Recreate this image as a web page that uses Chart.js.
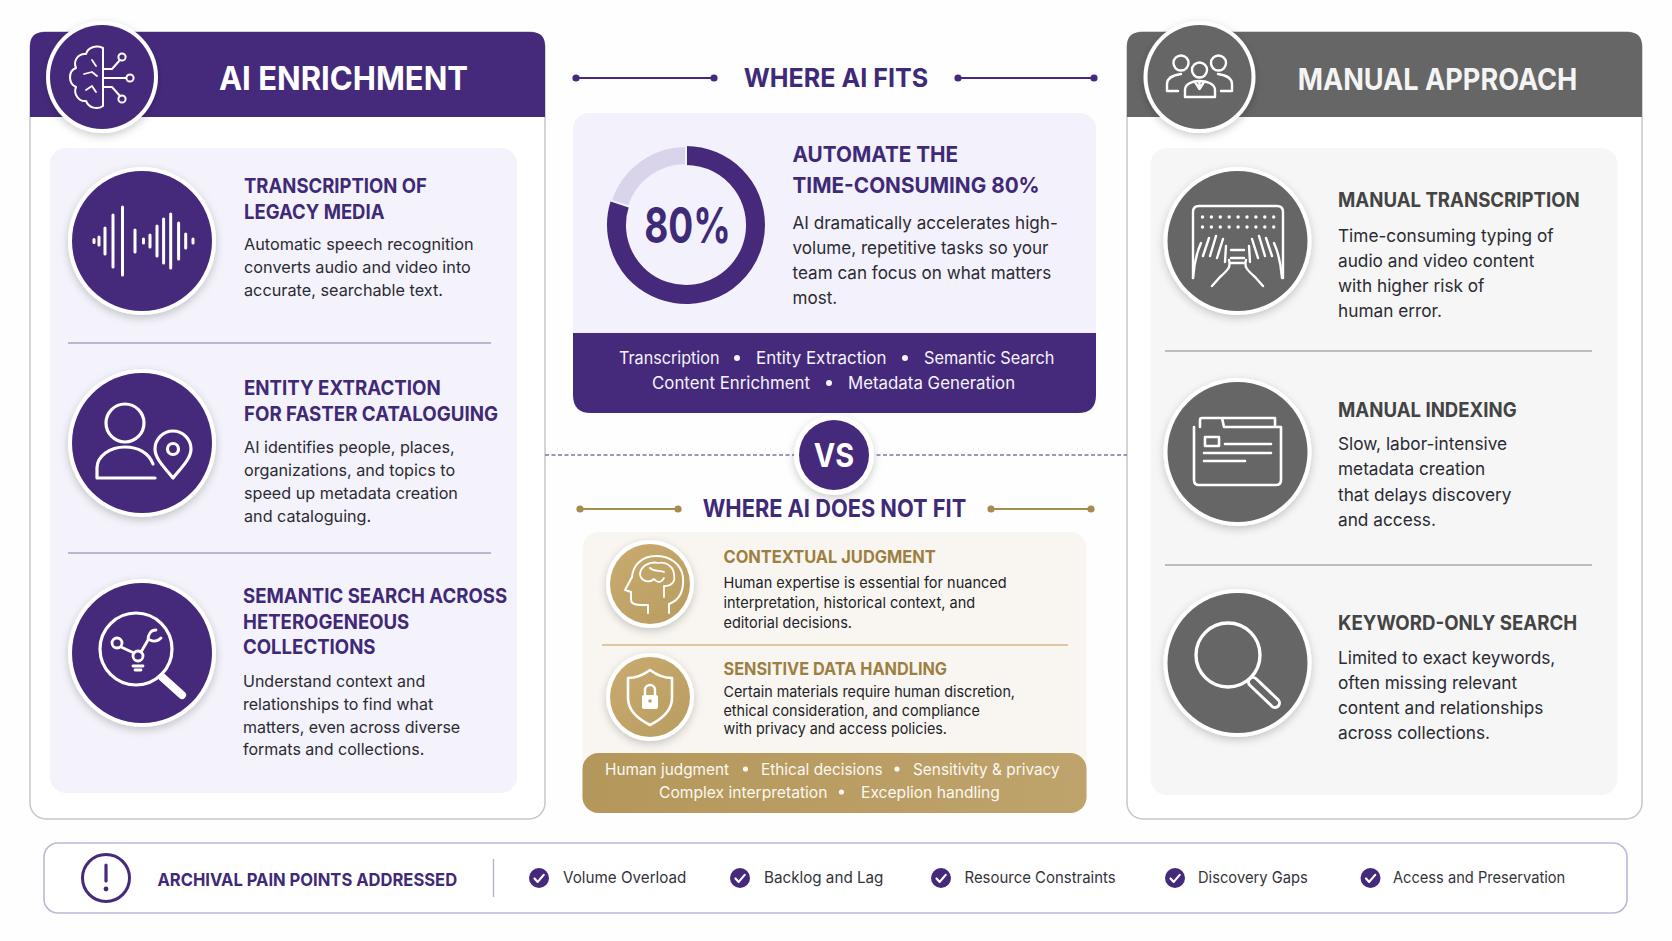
<!DOCTYPE html>
<html lang="en">
<head>
<meta charset="UTF-8">
<title>AI Enrichment vs Manual Approach</title>
<script src="https://cdn.jsdelivr.net/npm/chart.js"></script>
<style>
    html, body { margin: 0; padding: 0; background: #fefefe; overflow: hidden; }
    #board { position: absolute; left: 0; top: 0; width: 1672px; height: 941px; }
    #donutWrap { position: absolute; left: 605.5px; top: 144.5px; width: 160px; height: 160px; }
    text { font-family: Inter, "Noto Sans", sans-serif; }
    .ln { fill: none; stroke: #fff; stroke-width: 2.4; stroke-linecap: round; stroke-linejoin: round; }
</style>
</head>
<body>
<svg id="board" xmlns="http://www.w3.org/2000/svg" width="1672" height="941" viewBox="0 0 1672 941">
    <defs>
        <filter id="soft" x="-30%" y="-30%" width="160%" height="160%">
            <feDropShadow dx="0" dy="3" stdDeviation="4" flood-color="#000" flood-opacity="0.2"/>
        </filter>
        <linearGradient id="goldBand" x1="0" x2="1" y1="0" y2="0">
            <stop offset="0" stop-color="#b4975a"/><stop offset="1" stop-color="#bea36c"/>
        </linearGradient>
        <linearGradient id="goldDisc" x1="0" x2="1" y1="0" y2="1">
            <stop offset="0" stop-color="#c9ab70"/><stop offset="1" stop-color="#b99c60"/>
        </linearGradient>
    </defs>
    <g id="shapes"></g>
    <g id="icons"></g>
    <g id="labels"></g>
</svg>
<div id="donutWrap"><canvas id="donut" width="160" height="160"></canvas></div>

<script>
// share of the work shown in the ring
const fitLabels = ['Automated', 'Remaining'];
const fitValues = [80, 20];

const aiHeads = [
    ['TRANSCRIPTION OF', 'LEGACY MEDIA'],
    ['ENTITY EXTRACTION', 'FOR FASTER CATALOGUING'],
    ['SEMANTIC SEARCH ACROSS', 'HETEROGENEOUS', 'COLLECTIONS']
];
const aiBodies = [
    ['Automatic speech recognition', 'converts audio and video into', 'accurate, searchable text.'],
    ['AI identifies people, places,', 'organizations, and topics to', 'speed up metadata creation', 'and cataloguing.'],
    ['Understand context and', 'relationships to find what', 'matters, even across diverse', 'formats and collections.']
];
const manualHeads = ['MANUAL TRANSCRIPTION', 'MANUAL INDEXING', 'KEYWORD-ONLY SEARCH'];
const manualBodies = [
    ['Time-consuming typing of', 'audio and video content', 'with higher risk of', 'human error.'],
    ['Slow, labor-intensive', 'metadata creation', 'that delays discovery', 'and access.'],
    ['Limited to exact keywords,', 'often missing relevant', 'content and relationships', 'across collections.']
];
const fitHead = ['AUTOMATE THE', 'TIME-CONSUMING 80%'];
const fitBody = ['AI dramatically accelerates high-', 'volume, repetitive tasks so your', 'team can focus on what matters', 'most.'];
const fitTags = [['Transcription', 'Entity Extraction', 'Semantic Search'], ['Content Enrichment', 'Metadata Generation']];
const noFitHeads = ['CONTEXTUAL JUDGMENT', 'SENSITIVE DATA HANDLING'];
const noFitBodies = [
    ['Human expertise is essential for nuanced', 'interpretation, historical context, and', 'editorial decisions.'],
    ['Certain materials require human discretion,', 'ethical consideration, and compliance', 'with privacy and access policies.']
];
const noFitTags = [['Human judgment', 'Ethical decisions', 'Sensitivity & privacy'], ['Complex interpretation', 'Exceplion handling']];
const painTitle = 'ARCHIVAL PAIN POINTS ADDRESSED';
const painPoints = ['Volume Overload', 'Backlog and Lag', 'Resource Constraints', 'Discovery Gaps', 'Access and Preservation'];

const PURPLE = '#452a7c', INK_PURPLE = '#3f2a78', GREY = '#666666', GOLD = '#9c7f42', BODY = '#2b2b33';
const NS = 'http://www.w3.org/2000/svg';
const shapes = document.getElementById('shapes');
const icons = document.getElementById('icons');
const labels = document.getElementById('labels');

function el(parent, tag, attrs) {
    const node = document.createElementNS(NS, tag);
    for (const k in attrs) node.setAttribute(k, attrs[k]);
    parent.appendChild(node);
    return node;
}
function rect(x, y, w, h, r, fill, extra) {
    return el(shapes, 'rect', Object.assign({ x: x, y: y, width: w, height: h, rx: r, fill: fill }, extra || {}));
}
function hline(x1, x2, y, color, width, extra) {
    return el(shapes, 'line', Object.assign({ x1: x1, x2: x2, y1: y, y2: y, stroke: color, 'stroke-width': width }, extra || {}));
}
function dot(parent, x, y, r, fill) {
    return el(parent, 'circle', { cx: x, cy: y, r: r, fill: fill });
}
// fit narrows the glyphs a little, the reference face is tighter than Inter
function label(x, y, str, size, weight, fill, anchor, fit) {
    const t = el(labels, 'text', { x: x, y: y, 'font-size': size, 'font-weight': weight, fill: fill, 'text-anchor': anchor || 'start' });
    t.textContent = str;
    if (fit) {
        t.setAttribute('textLength', (t.getComputedTextLength() * fit).toFixed(1));
        t.setAttribute('lengthAdjust', 'spacingAndGlyphs');
    }
    return t;
}
function lines(x, ys, list, size, weight, fill, fit) {
    list.forEach((s, i) => label(x, ys[i], s, size, weight, fill, 'start', fit));
}
function disc(cx, cy, r, fill) {
    el(shapes, 'circle', { cx: cx, cy: cy, r: r, fill: '#fff', filter: 'url(#soft)' });
    el(shapes, 'circle', { cx: cx, cy: cy, r: r - 4, fill: fill });
}
function path(d, width, fill, color) {
    return el(icons, 'path', { d: d, class: 'ln', style: 'stroke-width:' + (width || 2.4) + ';fill:' + (fill || 'none') + ';stroke:' + (color || '#fff') });
}
function ring(cx, cy, r, width, color, fill) {
    return el(icons, 'circle', { cx: cx, cy: cy, r: r, class: 'ln', style: 'stroke-width:' + (width || 2.4) + ';stroke:' + (color || '#fff') + ';fill:' + (fill || 'none') });
}
function ruleWithDots(x1, x2, y, color) {
    hline(x1, x2, y, color, 2);
    dot(shapes, x1, y, 3.6, color);
    dot(shapes, x2, y, 3.6, color);
}

// ---- left and right panels
function panel(x, w, color, inner, innerX, innerW, innerB) {
    rect(x, 32, w, 787, 16, '#fff', { stroke: '#c6c6cc', 'stroke-width': 1.5 });
    el(shapes, 'path', { d: `M${x},117 V46 Q${x},32 ${x + 14},32 H${x + w - 14} Q${x + w},32 ${x + w},46 V117 Z`, fill: color });
    rect(innerX, 148, innerW, innerB - 148, 16, inner);
}
panel(30, 515, PURPLE, '#f4f2fa', 50, 467, 793);
panel(1127, 515, GREY, '#f6f6f6', 1150.5, 467, 795);

hline(68, 491, 343, '#a6a0c4', 1.4);
hline(68, 491, 553, '#a6a0c4', 1.4);
hline(1165, 1592, 351, '#a8a8a8', 1.4);
hline(1165, 1592, 565, '#a8a8a8', 1.4);

disc(102, 77, 56, PURPLE);
disc(142, 241, 74, PURPLE);
disc(142, 443, 74, PURPLE);
disc(142, 653, 74, PURPLE);
disc(1199.5, 77, 56, GREY);
disc(1237.5, 241, 74, GREY);
disc(1237.5, 452, 74, GREY);
disc(1237.5, 663, 74, GREY);

label(343.5, 90, 'AI ENRICHMENT', 32, 700, '#fff', 'middle', 0.97);
label(1437.5, 89.5, 'MANUAL APPROACH', 30, 700, '#f4f4f4', 'middle', 0.903);

lines(244, [193, 219], aiHeads[0], 20, 700, INK_PURPLE, 0.925);
lines(244, [250, 273, 296], aiBodies[0], 16.5, 400, BODY, 0.985);
lines(244, [395, 421], aiHeads[1], 20, 700, INK_PURPLE, 0.935);
lines(244, [453, 476, 499, 522], aiBodies[1], 16.5, 400, BODY, 0.98);
lines(243, [603, 629, 654], aiHeads[2], 20, 700, INK_PURPLE, 0.93);
lines(243, [687, 710, 733, 755], aiBodies[2], 16.5, 400, BODY, 0.97);

label(1338, 207, manualHeads[0], 20, 700, '#444', 'start', 0.93);
lines(1338, [242, 267, 292, 317], manualBodies[0], 17.5, 400, BODY, 0.985);
label(1338, 417, manualHeads[1], 20, 700, '#444', 'start', 0.93);
lines(1338, [450, 475, 501, 526], manualBodies[1], 17.5, 400, BODY, 0.985);
label(1338, 630, manualHeads[2], 20, 700, '#444', 'start', 0.933);
lines(1338, [664, 689, 714, 739], manualBodies[2], 17.5, 400, BODY, 0.985);

// ---- centre column, top half
ruleWithDots(576, 714, 78, PURPLE);
ruleWithDots(958, 1094, 78, PURPLE);
label(836, 87, 'WHERE AI FITS', 26, 700, INK_PURPLE, 'middle', 0.966);

rect(573, 113, 523, 300, 16, '#f3f1fb');
el(shapes, 'path', { d: 'M573,333 H1096 V395 Q1096,413 1078,413 H591 Q573,413 573,395 Z', fill: PURPLE });

label(687.5, 243, '80%', 50, 700, INK_PURPLE, 'middle', 0.74);
lines(792.5, [162, 193], fitHead, 22, 700, INK_PURPLE, 0.943);
lines(792.5, [229, 254, 279, 304], fitBody, 17.5, 400, BODY, 0.976);

const fitTagX = [[619, 756, 924], [652, 848]];
const fitDotX = [[737, 905], [829]];
const fitTagFit = [[0.95, 0.995, 0.96], [0.99, 0.99]];
fitTags.forEach((row, r) => {
    row.forEach((s, i) => label(fitTagX[r][i], r ? 389 : 364, s, 17, 400, '#f5f3fb', 'start', fitTagFit[r][i]));
    fitDotX[r].forEach(x => dot(labels, x, r ? 383 : 358, 3, '#f5f3fb'));
});

// VS divider
hline(545, 1127, 455, '#7f75a8', 1.6, { 'stroke-dasharray': '4 2.5' });
el(shapes, 'circle', { cx: 834, cy: 455, r: 40, fill: '#fff', filter: 'url(#soft)' });
dot(shapes, 834, 455, 35, PURPLE);
label(834, 467, 'VS', 32, 700, '#fff', 'middle', 0.9);

// ---- centre column, bottom half
ruleWithDots(580, 678, 509, '#a68b4f');
ruleWithDots(991, 1091, 509, '#a68b4f');
label(834.5, 517, 'WHERE AI DOES NOT FIT', 24, 700, INK_PURPLE, 'middle', 0.908);

rect(582.5, 532, 504, 281, 16, '#f9f6f1');
rect(582.5, 753, 504, 60, 16, 'url(#goldBand)');
hline(602, 1068, 645, '#d4b983', 1.4);
disc(650, 584, 44, 'url(#goldDisc)');
disc(650, 697, 44, 'url(#goldDisc)');

label(723.5, 563, noFitHeads[0], 17.5, 700, GOLD, 'start', 0.938);
lines(723.5, [588, 608, 628], noFitBodies[0], 15, 400, '#222228', 0.967);
label(723.5, 675, noFitHeads[1], 17.5, 700, GOLD, 'start', 0.93);
lines(723.5, [697, 716, 734], noFitBodies[1], 15, 400, '#222228', 0.955);

const noFitTagX = [[605, 761, 913], [659, 861]];
const noFitDotX = [[745.5, 897], [841.5]];
const noFitTagFit = [0.96, 0.976];
noFitTags.forEach((row, r) => {
    row.forEach((s, i) => label(noFitTagX[r][i], r ? 798 : 775, s, 16, 400, '#fbf8f1', 'start', noFitTagFit[r]));
    noFitDotX[r].forEach(x => dot(labels, x, r ? 792 : 769, 2.6, '#fbf8f1'));
});

// ---- bottom strip
rect(44, 843, 1583, 70, 14, '#fff', { stroke: '#bdb8d6', 'stroke-width': 1.6 });
el(shapes, 'line', { x1: 493.5, x2: 493.5, y1: 859, y2: 897, stroke: '#b4b0c8', 'stroke-width': 1.4 });
ring(106, 878, 23.5, 3, PURPLE);
path('M106,865 V881', 3.2, 'none', PURPLE);
dot(icons, 106, 889, 2.4, PURPLE);
label(157.5, 886, painTitle, 18, 700, INK_PURPLE, 'start', 0.92);

const checkX = [539, 740, 941, 1175, 1370.5];
const pointX = [563, 764, 964.5, 1198, 1393];
const pointFit = [0.95, 0.95, 0.934, 0.92, 0.915];
painPoints.forEach((s, i) => {
    dot(icons, checkX[i], 878, 10, PURPLE);
    path(`M${checkX[i] - 4.5},878.5 l3.2,3.4 l6,-7`, 2.2);
    label(pointX[i], 883, s, 16, 400, '#33333b', 'start', pointFit[i]);
});

// ---- icons
// brain with circuit
path('M103,48 C96,45 88,47 86,54 C78,53 73,61 76,68 C68,71 68,83 76,87 C73,94 79,102 86,101 C89,108 97,110 103,106 Z', 2);
path('M92,60 L96,66 M84,74 L92,72 L97,76 M86,90 L92,86 L96,92', 1.8);
path('M103,69 H112 L120,60 M103,78 H126 M103,87 H112 L120,96', 2);
ring(122, 57, 3.6, 2);
ring(130, 78, 3.6, 2);
ring(122, 99, 3.6, 2);
// sound wave
const waveDx = [-48, -43, -37, -29, -19.5, -7, 1.5, 8, 15, 21.6, 28.7, 36.6, 43.7, 51];
const waveH = [1.5, 4, 13, 26, 34, 11, 2, 6, 15, 22, 27, 18, 7, 2];
waveDx.forEach((dx, i) => path(`M${142 + dx},${241 - waveH[i]} V${241 + waveH[i]}`, 3));
// person and pin
ring(125, 423, 19, 3.2);
path('M97,478 V468 C97,456 110,447 125,447 C138,447 149,453 153,464 M97,478 H155', 3.2);
path('M173,478 C163,466 155,458 155,449 A18,18 0 1 1 191,449 C191,458 183,466 173,478 Z', 3.2, PURPLE);
ring(173, 449, 5.5, 3.2);
// magnifier with network
ring(136, 649, 36, 3.2);
path('M162,677 L182,695', 8);
ring(117, 643, 5, 2.8);
ring(138, 656, 5, 2.8);
path('M121,647 L134,653 M141,652 L148,640 C148,634 151,630 156,630 M150,640 C154,642 158,641 161,638', 2.8);
path('M133,666 H143 M135,670 H141', 2.8);
// people
ring(1181, 63, 7.5);
ring(1218.5, 63, 7.5);
ring(1199.5, 70, 7.5);
path('M1167,91 V84 C1167,78 1174,75 1181,74 M1232,91 V84 C1232,78 1225,75 1218,74 M1167,91 H1178 M1232,91 H1221');
path('M1185,97 V90 C1185,84 1192,81 1199.5,81 C1207,81 1215,84 1215,90 V97 Z M1199.5,81 V89 M1195,82 L1199.5,89 L1204,82');
// keyboard and hands
path('M1193,278 V212 Q1193,206 1199,206 H1277 Q1283,206 1283,212 V278');
for (let row = 0; row < 2; row++) {
    for (let k = 0; k < 9; k++) dot(icons, 1202.5 + k * 8.9, 217 + row * 10, 1.7, '#fff');
}
const handLeft = 'M1193,278 C1194,264 1197,252 1201,243 M1203,256 L1209,238 M1210,256 L1216,236 M1217,258 L1223,239 M1225,262 L1226,246 M1212,286 L1220,277 C1228,270 1231,267 1229,260';
path(handLeft);
el(icons, 'path', { d: handLeft, class: 'ln', transform: 'translate(2475,0) scale(-1,1)' });
path('M1231,250 H1244 M1231,258 H1244 M1231,263 H1244');
// folder
path('M1194,427 V480 Q1194,485 1199,485 H1276 Q1281,485 1281,480 V427 H1224 L1222,418 H1202 Q1200,418 1200,420 V427 M1222,418 H1275 V427', 2.6);
path('M1205,437 H1219 V446 H1205 Z M1225,444 H1271 M1204,453 H1271 M1204,461 H1245', 2.6);
// plain magnifier
ring(1228, 655, 32, 3.4);
path('M1253,682 L1275,703', 12);
path('M1253,682 L1275,703', 6, 'none', GREY);
// head with brain
path('M669,613 V604 C680,600 684,590 683,577 C681,563 669,556 656,556 C642,556 633,565 632,577 L625,590 L631,592 V600 C631,604 636,605 642,605 L648,605 V613', 2);
path('M640,575 C640,566 650,561 658,563 C666,561 674,567 674,575 C676,582 670,587 664,586 L664,597 M640,575 C642,582 650,583 654,579 C658,584 662,582 664,578 M650,568 C654,572 660,570 664,572', 1.8);
// shield and lock
path('M650,670 C642,676 635,678 628,678 V698 C628,710 638,719 650,725 C662,719 672,710 672,698 V678 C665,678 658,676 650,670 Z', 2.6);
el(icons, 'rect', { x: 642, y: 695, width: 16, height: 14, rx: 2, fill: '#fff' });
path('M645,695 V690 A5,5 0 0 1 655,690 V695', 2.4);
dot(icons, 650, 701, 1.8, '#bfa164');

// ---- ring chart
new Chart(document.getElementById('donut'), {
    type: 'doughnut',
    data: {
        labels: fitLabels,
        datasets: [{
            data: fitValues,
            backgroundColor: [PURPLE, '#d9d4e9'],
            borderColor: ['#452a7c', '#f3f1fb'],
            borderWidth: [0, 2]
        }]
    },
    options: {
        responsive: false,
        animation: false,
        cutout: '76%',
        plugins: { legend: { display: false }, tooltip: { enabled: false } }
    }
});
</script>
</body>
</html>
